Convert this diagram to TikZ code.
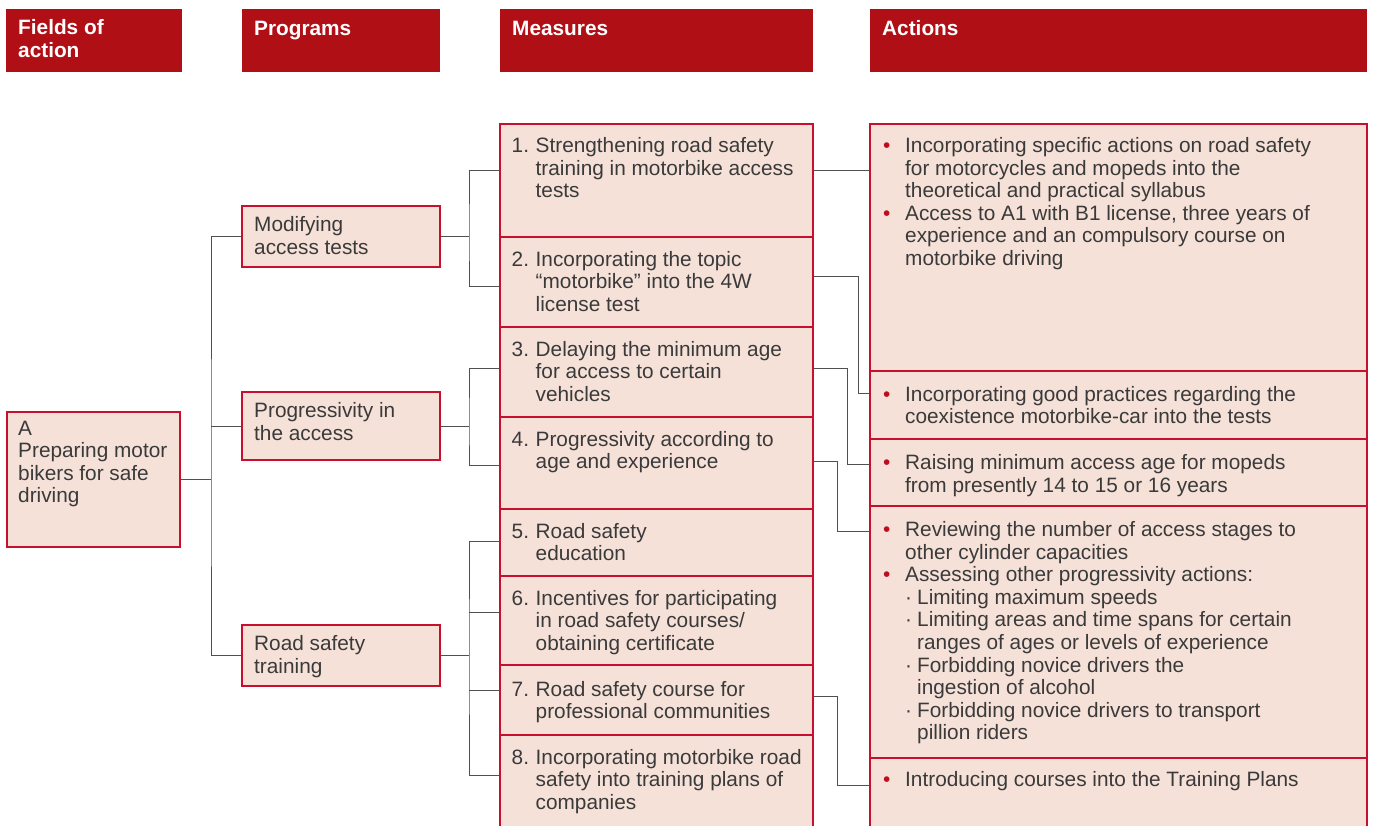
\documentclass[tikz,border=0pt]{standalone}
\usepackage{fontspec}
\setmainfont{Liberation Sans}
\usetikzlibrary{calc}
\definecolor{hdr}{HTML}{B00F16}
\definecolor{boxfill}{HTML}{F5E1D8}
\definecolor{boxline}{HTML}{C8102E}
\definecolor{txtc}{HTML}{3A3A3A}
\definecolor{con}{HTML}{505050}
\definecolor{bul}{HTML}{C00D1E}
\newcommand\myfs{\fontsize{20.8}{22.5}\selectfont}
\newcommand\bl{\makebox[22pt][l]{\textcolor{bul}{\textbullet}}}
\newcommand\ind{\hspace*{22pt}}
\newcommand\sub{\hspace*{22pt}\makebox[12pt][l]{·}}
\newcommand\subind{\hspace*{34pt}}
\newcommand\num[1]{\makebox[24pt][l]{#1}}
\newcommand\nind{\hspace*{24pt}}
\newcommand\firststrut{\vrule width 0pt height 15.75pt depth 0pt\relax}
\pgfdeclarelayer{bg}
\pgfsetlayers{bg,main}
\begin{document}
\begin{tikzpicture}[x=1pt,y=-1pt,
  hdrbox/.style={fill=hdr, draw=none, anchor=north west, inner sep=0pt, outer sep=0pt},
  rbox/.style={fill=boxfill, draw=boxline, line width=1.2pt, anchor=north west, inner sep=0pt, outer sep=0pt},
  txt/.style={anchor=north west, yshift=15.75pt, inner sep=0pt, align=left, font=\myfs, text=txtc, execute at begin node=\firststrut},
  htxt/.style={txt, font=\myfs\bfseries, text=white},
  conn/.style={draw=con, line width=1pt}]
\clip (0,0) rectangle (1373,826);
% headers
\node[hdrbox, minimum width=176pt, minimum height=63pt] (h1) at (6,9) {};
\node[hdrbox, minimum width=198pt, minimum height=63pt] (h2) at (242,9) {};
\node[hdrbox, minimum width=313pt, minimum height=63pt] (h3) at (500,9) {};
\node[hdrbox, minimum width=497pt, minimum height=63pt] (h4) at (870,9) {};
\node[htxt] (h1t) at (18,35) {Fields of\\action};
\node[htxt] (h2t) at (254,35) {Programs};
\node[htxt] (h3t) at (512,35) {Measures};
\node[htxt] (h4t) at (882,35) {Actions};
% field of action
\node[rbox, minimum width=173pt, minimum height=135pt] (fa) at (7,412) {};
\node[txt] (fat) at (18,436.7) {A\\Preparing motor\\bikers for safe\\driving};
% programs
\node[rbox, minimum width=198pt, minimum height=61pt] (p1) at (242,206) {};
\node[rbox, minimum width=198pt, minimum height=68pt] (p2) at (242,392) {};
\node[rbox, minimum width=198pt, minimum height=61pt] (p3) at (242,625) {};
\node[txt] (p1t) at (254,232.3) {Modifying\\access tests};
\node[txt] (p2t) at (254,418.3) {Progressivity in\\the access};
\node[txt] (p3t) at (254,651.3) {Road safety\\training};
% measures
\node[rbox, minimum width=313pt, minimum height=113pt] (m1) at (500,124) {};
\node[rbox, minimum width=313pt, minimum height=90pt] (m2) at (500,237) {};
\node[rbox, minimum width=313pt, minimum height=90pt] (m3) at (500,327) {};
\node[rbox, minimum width=313pt, minimum height=92pt] (m4) at (500,417) {};
\node[rbox, minimum width=313pt, minimum height=67pt] (m5) at (500,509) {};
\node[rbox, minimum width=313pt, minimum height=89pt] (m6) at (500,576) {};
\node[rbox, minimum width=313pt, minimum height=70pt] (m7) at (500,665) {};
\node[rbox, minimum width=313pt, minimum height=110pt] (m8) at (500,735) {};
\node[txt] (m1t) at (511.5,153.3) {\num{1.}Strengthening road safety\\\nind training in motorbike access\\\nind tests};
\node[txt] (m2t) at (511.5,266.5) {\num{2.}Incorporating the topic\\\nind “motorbike” into the 4W\\\nind license test};
\node[txt] (m3t) at (511.5,356.5) {\num{3.}Delaying the minimum age\\\nind for access to certain\\\nind vehicles};
\node[txt] (m4t) at (511.5,446.5) {\num{4.}Progressivity according to\\\nind age and experience};
\node[txt] (m5t) at (511.5,538.5) {\num{5.}Road safety\\\nind education};
\node[txt] (m6t) at (511.5,605.5) {\num{6.}Incentives for participating\\\nind in road safety courses/\\\nind obtaining certificate};
\node[txt] (m7t) at (511.5,696.5) {\num{7.}Road safety course for\\\nind professional communities};
\node[txt] (m8t) at (511.5,764.5) {\num{8.}Incorporating motorbike road\\\nind safety into training plans of\\\nind companies};
% actions
\node[rbox, minimum width=497pt, minimum height=247pt] (a1) at (870,124) {};
\node[rbox, minimum width=497pt, minimum height=68pt] (a2) at (870,371) {};
\node[rbox, minimum width=497pt, minimum height=67pt] (a3) at (870,439) {};
\node[rbox, minimum width=497pt, minimum height=252pt] (a4) at (870,506) {};
\node[rbox, minimum width=497pt, minimum height=90pt] (a5) at (870,758) {};
\node[txt] (a1t) at (883,153.3) {\bl Incorporating specific actions on road safety\\\ind for motorcycles and mopeds into the\\\ind theoretical and practical syllabus\\\bl Access to A1 with B1 license, three years of\\\ind experience and an compulsory course on\\\ind motorbike driving};
\node[txt] (a2t) at (883,401.6) {\bl Incorporating good practices regarding the\\\ind coexistence motorbike-car into the tests};
\node[txt] (a3t) at (883,470) {\bl Raising minimum access age for mopeds\\\ind from presently 14 to 15 or 16 years};
\node[txt, font=\fontsize{20.8}{22.6}\selectfont] (a4t) at (883,537) {\bl Reviewing the number of access stages to\\\ind other cylinder capacities\\\bl Assessing other progressivity actions:\\\sub Limiting maximum speeds\\\sub Limiting areas and time spans for certain\\\subind ranges of ages or levels of experience\\\sub Forbidding novice drivers the\\\subind ingestion of alcohol\\\sub Forbidding novice drivers to transport\\\subind pillion riders};
\node[txt] (a5t) at (883,786.7) {\bl Introducing courses into the Training Plans};
% connectors
\begin{pgfonlayer}{bg}
\coordinate (jA) at ($(fa.east)+(31,0)$);
\draw[conn] (fa.east) -- (jA);
\draw[conn] (p1.west) -| (jA) |- (p3.west);
\draw[conn] (p2.west) -- (jA |- p2.west);
% program 1
\coordinate (j1) at ($(p1.east)+(29,0)$);
\coordinate (b1) at ($(m1.north west)+(0,47)$);
\coordinate (b2) at ($(m2.north west)+(0,50)$);
\draw[conn] (p1.east) -- (j1);
\draw[conn] (b1) -| (j1) |- (b2);
% program 2
\coordinate (j2) at ($(p2.east)+(29,0)$);
\coordinate (b3) at ($(m3.north west)+(0,41)$);
\coordinate (b4) at ($(m4.north west)+(0,48)$);
\draw[conn] (p2.east) -- (j2);
\draw[conn] (b3) -| (j2) |- (b4);
% program 3
\coordinate (j3) at ($(p3.east)+(29,0)$);
\coordinate (b5) at ($(m5.north west)+(0,32)$);
\coordinate (b6) at ($(m6.north west)+(0,36)$);
\coordinate (b7) at ($(m7.north west)+(0,25)$);
\coordinate (b8) at ($(m8.north west)+(0,40.5)$);
\draw[conn] (p3.east) -- (j3);
\draw[conn] (b5) -| (j3) |- (b8);
\draw[conn] (b6) -- (j3 |- b6);
\draw[conn] (b7) -- (j3 |- b7);
% measures to actions
\coordinate (c1) at ($(m1.north east)+(0,47)$);
\draw[conn] (c1) -- (a1.west |- c1);
\coordinate (c2) at ($(m2.north east)+(0,40)$);
\coordinate (d2) at ($(a2.north west)+(0,22)$);
\draw[conn] (c2) -- ++(45,0) |- (d2);
\coordinate (c3) at ($(m3.north east)+(0,41)$);
\coordinate (d3) at ($(a3.north west)+(0,25)$);
\draw[conn] (c3) -- ++(34,0) |- (d3);
\coordinate (c4) at ($(m4.north east)+(0,44)$);
\coordinate (d4) at ($(a4.north west)+(0,25)$);
\draw[conn] (c4) -- ++(24.5,0) |- (d4);
\coordinate (c7) at ($(m7.north east)+(0,31)$);
\coordinate (d7) at ($(a5.north west)+(0,27)$);
\draw[conn] (c7) -- ++(24.5,0) |- (d7);
\end{pgfonlayer}
\end{tikzpicture}
\end{document}
